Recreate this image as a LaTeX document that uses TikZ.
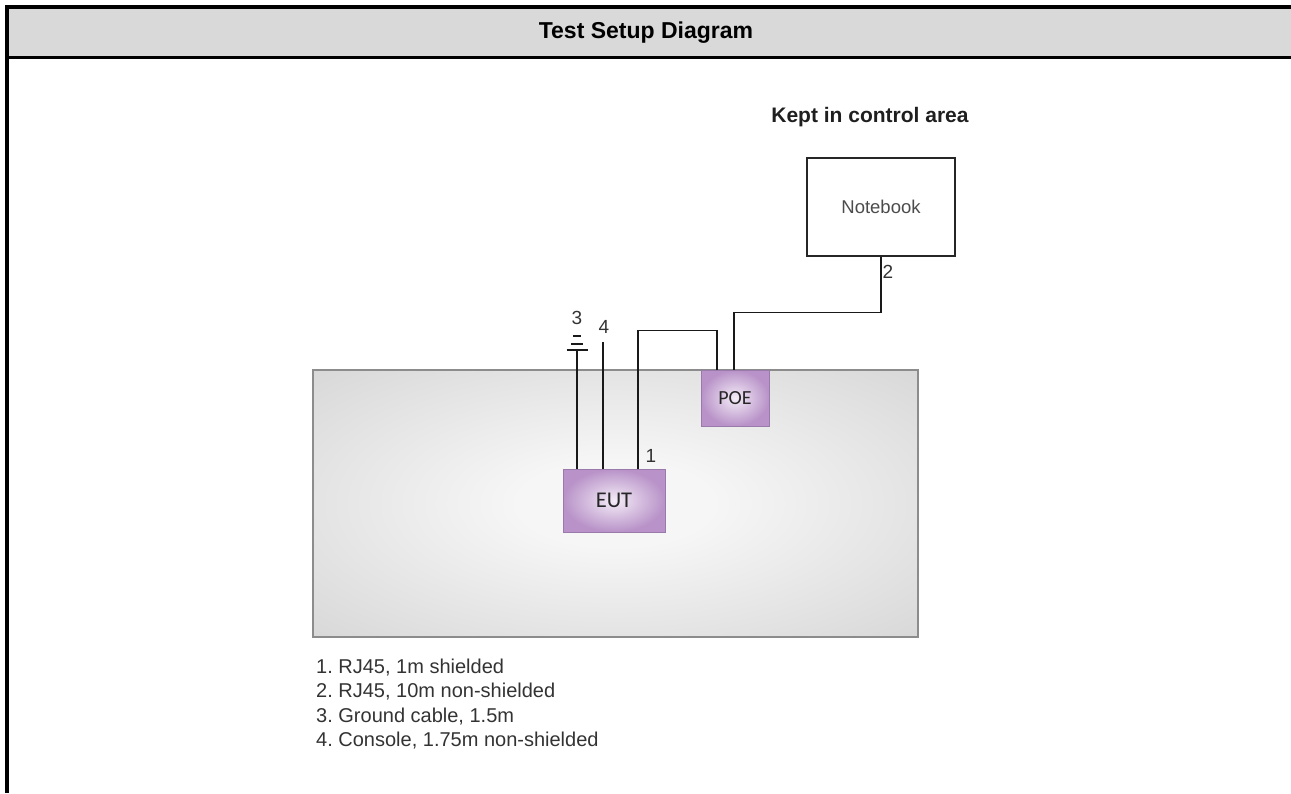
\documentclass[tikz,border=0pt]{standalone}
\usepackage{fontspec}
\setmainfont{Liberation Sans}
\newfontfamily\calfont{Carlito}
\definecolor{hdrgray}{HTML}{D9D9D9}
\definecolor{tabin}{HTML}{F6F6F6}
\definecolor{tabout}{HTML}{D3D3D3}
\definecolor{tabline}{HTML}{8C8C8C}
\definecolor{purin}{HTML}{F4ECF7}
\definecolor{purout}{HTML}{B892C8}
\definecolor{purline}{HTML}{9A7AAA}
\definecolor{txtdark}{HTML}{333333}
\pgfdeclareradialshading{tabshade}{\pgfpoint{0bp}{0bp}}{color(0bp)=(tabin); color(8bp)=(tabin); color(40bp)=(tabout); color(60bp)=(tabout)}
\frenchspacing
\begin{document}
\begin{tikzpicture}[x=1pt,y=-1pt,
  wire/.style={line width=1.4pt, draw=black!90},
  lbl/.style={font=\fontsize{19}{19}\selectfont, text=txtdark, inner sep=0pt},
  legendline/.style={font=\fontsize{20}{20}\selectfont, text=txtdark, inner sep=0pt, anchor=base west},
  unitbox/.style={draw=purline, line width=1pt, inner color=purin, outer color=purout, text=black!85, inner sep=0pt},
  tablebox/.style={draw=tabline, line width=1.3pt, shading=tabshade, shade, inner sep=0pt},
  pcbox/.style={draw=black!85, line width=1.3pt, fill=white, inner sep=0pt, font=\fontsize{18.5}{18.5}\selectfont, text=black!70}]
\useasboundingbox (0,0) rectangle (1291,793);
% header
\fill[hdrgray] (9,9) rectangle (1291,56);
\node[font=\bfseries\fontsize{23}{23}\selectfont, inner sep=0pt] (title) at (646,33) {Test Setup Diagram};
\draw[line width=4pt] (7,793) -- (7,7) -- (1291,7);
\draw[line width=3pt] (7,57) -- (1291,57);
% table
\node[tablebox, minimum width=605pt, minimum height=267pt] (tab) at (615.5,503.5) {};
% devices
\node[pcbox, minimum width=148pt, minimum height=98pt] (nb) at (881,207) {Notebook};
\node[font=\bfseries\fontsize{21}{21}\selectfont, text=black!88, inner sep=0pt] (area) at (870,117) {Kept in control area};
\node[unitbox, minimum width=68pt, minimum height=56pt, font=\calfont\fontsize{20}{20}\selectfont] (poe) at (735,398) {POE};
\node[unitbox, minimum width=102pt, minimum height=63pt, font=\calfont\fontsize{22.5}{22.5}\selectfont] (eut) at (614,500.5) {EUT};
% connectors
\draw[wire] ([xshift=-1pt]poe.north) -- ++(0,-57) -| (nb.south);
\draw[wire] ([xshift=24pt]eut.north) -- ++(0,-138) -| ([xshift=-18pt]poe.north);
\coordinate (c4) at (603,342);
\draw[wire] (eut.north -| c4) -- (c4);
\coordinate (gnd) at (577,350);
\draw[wire] (eut.north -| gnd) -- (gnd);
% ground symbol
\draw[wire] ([xshift=-10.5pt]gnd) -- ([xshift=10.5pt]gnd);
\draw[wire] ([xshift=-6pt,yshift=6pt]gnd) -- ([xshift=6pt,yshift=6pt]gnd);
\draw[wire] ([xshift=-4pt,yshift=14pt]gnd) -- ([xshift=4pt,yshift=14pt]gnd);
% cable labels
\node[lbl] (n1) at (651,456) {1};
\node[lbl] (n2) at (888,272) {2};
\node[lbl] (n3) at (577,318) {3};
\node[lbl] (n4) at (604,327) {4};
% legend
\node[legendline] (l1) at (316,673) {1. RJ45, 1m shielded};
\node[legendline] (l2) at (316,697.5) {2. RJ45, 10m non-shielded};
\node[legendline] (l3) at (316,722) {3. Ground cable, 1.5m};
\node[legendline] (l4) at (316,746.5) {4. Console, 1.75m non-shielded};
\end{tikzpicture}
\end{document}
